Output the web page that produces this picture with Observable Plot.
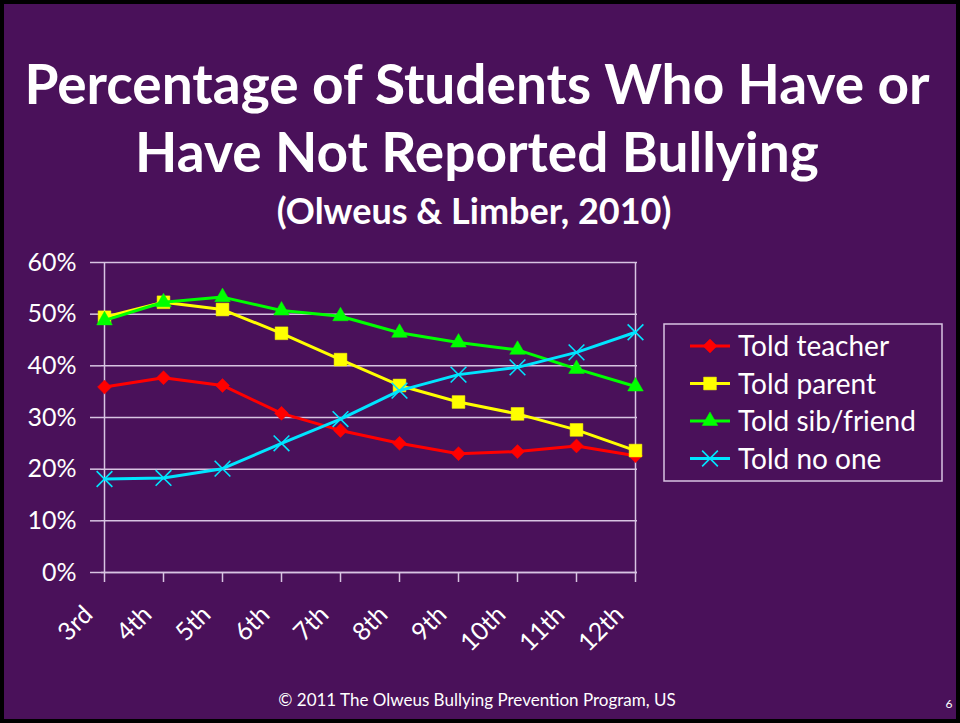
<!DOCTYPE html>
<html><head><meta charset="utf-8">
<script src="https://cdn.jsdelivr.net/npm/d3@7"></script>
<script src="https://cdn.jsdelivr.net/npm/@observablehq/plot@0.6"></script>
<style>
body{margin:0;background:#fff}
#slide{position:relative;width:960px;height:723px;background:#4A115A;overflow:hidden;font-family:Lato,"Open Sans",sans-serif}
#deco{position:absolute;left:0;top:0}
#chart{position:absolute;left:0;top:240px}
#frame{position:absolute;left:0;top:0;width:960px;height:723px;box-sizing:border-box;border:4px solid #000;pointer-events:none}
</style></head><body>
<div id="slide"><svg id="deco" width="960" height="723"></svg><div id="chart"></div><div id="frame"></div></div>
<script>
// ---- data ----
const grades = ["3rd","4th","5th","6th","7th","8th","9th","10th","11th","12th"];
const seriesNames = ["Told teacher","Told parent","Told sib/friend","Told no one"];
const toldTeacher   = [35.9, 37.7, 36.2, 30.8, 27.5, 25.0, 23.0, 23.4, 24.5, 22.6];
const toldParent    = [49.4, 52.3, 50.9, 46.3, 41.2, 36.2, 33.0, 30.7, 27.6, 23.6];
const toldSibFriend = [48.8, 52.3, 53.3, 50.7, 49.6, 46.4, 44.5, 43.1, 39.4, 36.0];
const toldNoOne     = [18.1, 18.3, 20.1, 25.0, 29.7, 35.2, 38.3, 39.7, 42.6, 46.5];
const yTicks = [0, 10, 20, 30, 40, 50, 60];
const titleLines = ["Percentage of Students Who Have or", "Have Not Reported Bullying"];
const subtitle = "(Olweus & Limber, 2010)";
const footer = "\u00A9 2011 The Olweus Bullying Prevention Program, US";
const pageNumber = "6";

// ---- styles ----
const seriesValues = [toldTeacher, toldParent, toldSibFriend, toldNoOne];
const colors = ["#FF0000", "#FFFF00", "#00FF00", "#00E5FF"];
const symbols = ["diamond2", "square", "triangle", "times"];
const radii = [6.3, 7.2, 5.8, 7.2];
const gridColor = "#D8C4E2";

const rows = seriesNames.flatMap((s, i) => grades.map((g, j) => ({series: s, grade: g, value: seriesValues[i][j]})));

const seriesMarks = seriesNames.flatMap((s, i) => {
  const data = rows.filter(d => d.series === s);
  const isStroke = symbols[i] === "times";
  return [
    Plot.line(data, {x: "grade", y: "value", stroke: colors[i], strokeWidth: 3}),
    Plot.dot(data, isStroke
      ? {x: "grade", y: "value", symbol: () => symbols[i], r: radii[i], stroke: colors[i], strokeWidth: 1.6}
      : {x: "grade", y: "value", symbol: () => symbols[i], r: radii[i], fill: colors[i], stroke: colors[i], strokeWidth: 0.5})
  ];
});

const chart = Plot.plot({
  width: 660, height: 430,
  marginLeft: 101, marginRight: 23, marginTop: 22, marginBottom: 98,
  style: {background: "transparent", color: "white", fontFamily: "Lato, 'Open Sans', sans-serif", overflow: "visible"},
  x: {type: "point", domain: grades, padding: 0, label: null},
  y: {domain: [0, 60], label: null},
  symbol: {type: "identity"},
  marks: [
    Plot.gridY(yTicks, {stroke: gridColor, strokeOpacity: 1, strokeWidth: 1.5}),
    Plot.ruleX([grades[0], grades[grades.length - 1]], {x: d => d, y1: 0, y2: 60, stroke: gridColor, strokeWidth: 1.5}),
    Plot.ruleY([0], {stroke: gridColor, strokeWidth: 1.5}),
    Plot.axisY(yTicks, {tickSize: 11, stroke: gridColor, strokeWidth: 1.5, strokeOpacity: 1, tickPadding: 14, fontSize: 25, fill: "white", tickFormat: d => d + "%"}),
    Plot.axisX(grades, {tickSize: 10, stroke: gridColor, strokeWidth: 1.5, strokeOpacity: 1, tickFormat: () => ""}),
    Plot.axisX(grades, {tickSize: 0, tickRotate: -45, tickPadding: 22, dx: -16, dy: 16, fontSize: 25, fill: "white"}),
    ...seriesMarks
  ]
});
document.getElementById("chart").appendChild(chart);

// ---- titles, legend, footer ----
const deco = d3.select("#deco").style("font-family", "Lato, 'Open Sans', sans-serif");
deco.selectAll("text.title").data(titleLines).join("text")
  .attr("x", 477).attr("y", (d, i) => 104 + i * 68)
  .attr("text-anchor", "middle").attr("fill", "white")
  .attr("font-size", 55).attr("font-weight", 700).text(d => d);
deco.append("text").attr("x", 474).attr("y", 224).attr("text-anchor", "middle")
  .attr("fill", "white").attr("font-size", 36).attr("font-weight", 700).text(subtitle);
deco.append("text").attr("x", 477).attr("y", 706).attr("text-anchor", "middle")
  .attr("fill", "white").attr("font-size", 17).text(footer);
deco.append("text").attr("x", 949).attr("y", 708).attr("text-anchor", "middle")
  .attr("fill", "white").attr("font-size", 12).text(pageNumber);

const lg = deco.append("g");
lg.append("rect").attr("x", 664).attr("y", 324).attr("width", 278).attr("height", 157)
  .attr("fill", "none").attr("stroke", gridColor).attr("stroke-width", 1.5);
seriesNames.forEach((s, i) => {
  const cy = 346 + i * 37.5;
  lg.append("line").attr("x1", 690).attr("x2", 730).attr("y1", cy).attr("y2", cy)
    .attr("stroke", colors[i]).attr("stroke-width", 3);
  const symMap = {diamond2: d3.symbolDiamond2, square: d3.symbolSquare, triangle: d3.symbolTriangle, times: d3.symbolTimes};
  const size = radii[i] * radii[i] * Math.PI;
  const p = lg.append("path").attr("transform", `translate(710,${cy})`)
    .attr("d", d3.symbol(symMap[symbols[i]], size)());
  if (symbols[i] === "times") p.attr("fill", "none").attr("stroke", colors[i]).attr("stroke-width", 1.6);
  else p.attr("fill", colors[i]).attr("stroke", colors[i]).attr("stroke-width", 0.5);
  lg.append("text").attr("x", 738).attr("y", cy + 10).attr("fill", "white")
    .attr("font-size", 28).text(s);
});
</script>
</body></html>
